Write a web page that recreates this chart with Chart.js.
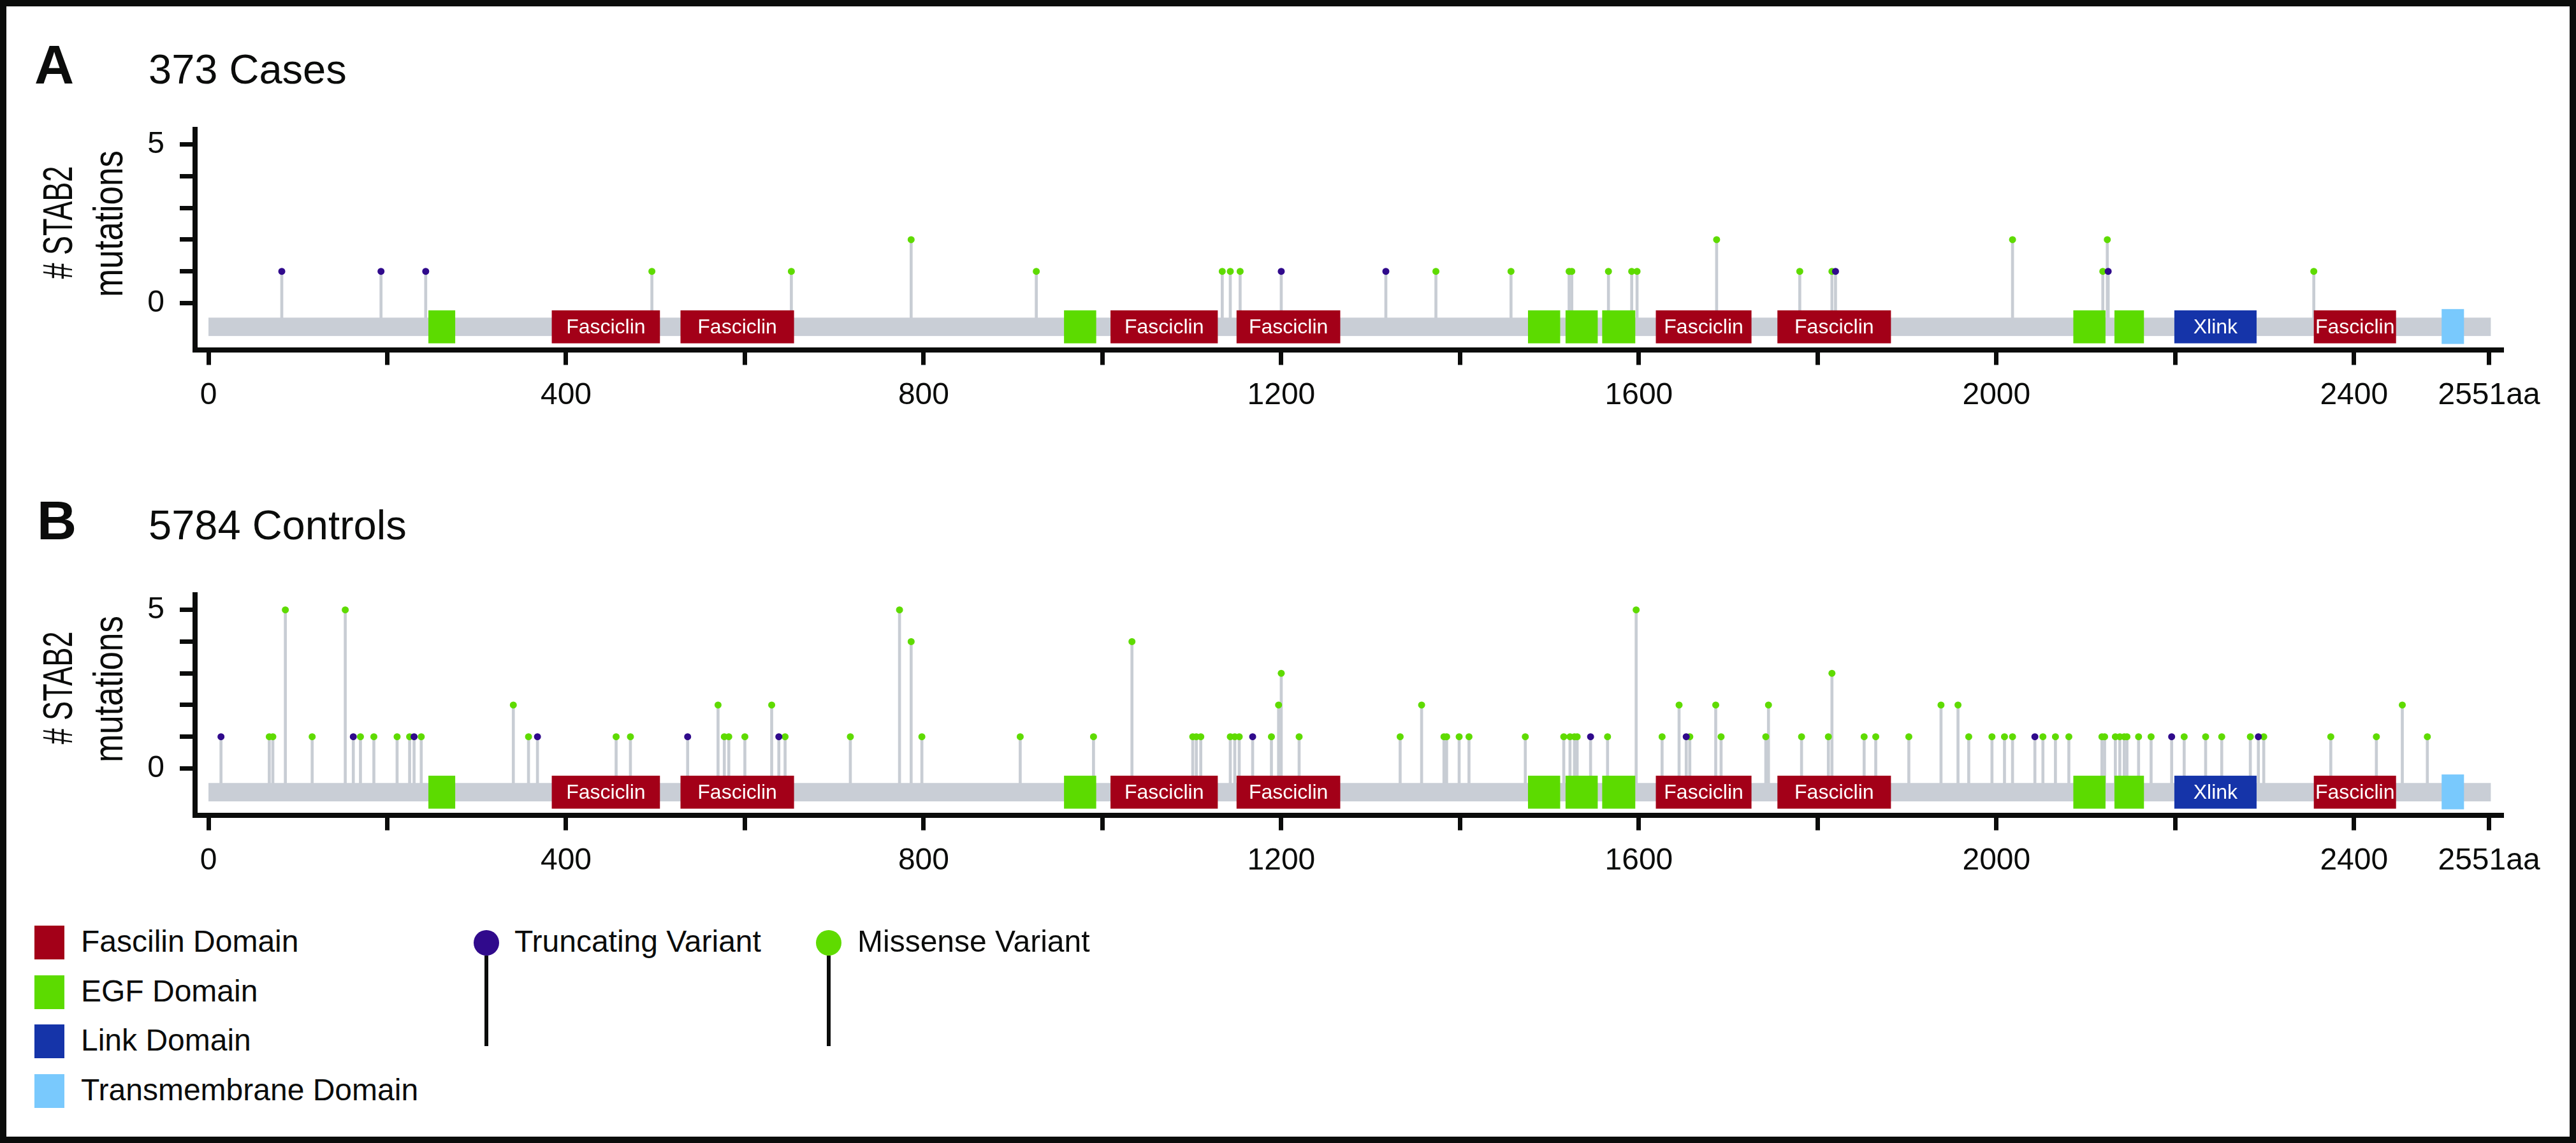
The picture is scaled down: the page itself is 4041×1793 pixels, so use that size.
<!DOCTYPE html>
<html>
<head>
<meta charset="utf-8">
<script src="https://cdn.jsdelivr.net/npm/chart.js@4.4.1/dist/chart.umd.min.js"></script>
<style>
  body { margin: 0; background: #fff; }
  #fig { position: relative; width: 4041px; height: 1793px; overflow: hidden;
         font-family: "Liberation Sans", Arial, sans-serif; color: #0b0c0b; }
  #frame { position: absolute; left: 0; top: 0; width: 4041px; height: 1793px;
           box-sizing: border-box; border: 10px solid #0b0c0b; }
  canvas { position: absolute; left: 0; }
  .t { position: absolute; white-space: nowrap; line-height: 1; }
  .letter { font-weight: bold; font-size: 86px; }
  .head { font-size: 65px; }
  .lg { font-size: 48px; }
  .sw { position: absolute; left: 54px; width: 47px; height: 53px; }
  .pin { position: absolute; width: 40px; height: 40px; border-radius: 50%; }
  .stick { position: absolute; width: 6px; height: 142px; background: #0b0c0b; }
</style>
</head>
<body>
<div id="fig">
  <div class="t letter" style="left:54px; top:58px;">A</div>
  <div class="t head" style="left:233px; top:76px;">373 Cases</div>
  <canvas id="chartA" width="4041" height="540" style="top:150px;"></canvas>

  <div class="t letter" style="left:58px; top:773px;">B</div>
  <div class="t head" style="left:233px; top:791px;">5784 Controls</div>
  <canvas id="chartB" width="4041" height="540" style="top:880px;"></canvas>

  <!-- legend -->
  <div class="sw" style="top:1452px; background:#a30018;"></div>
  <div class="t lg" style="left:127px; top:1453px;">Fascilin Domain</div>
  <div class="sw" style="top:1530px; background:#5cdb00;"></div>
  <div class="t lg" style="left:127px; top:1531px;">EGF Domain</div>
  <div class="sw" style="top:1607px; background:#1534a9;"></div>
  <div class="t lg" style="left:127px; top:1608px;">Link Domain</div>
  <div class="sw" style="top:1685px; background:#79c9fd;"></div>
  <div class="t lg" style="left:127px; top:1686px;">Transmembrane Domain</div>

  <div class="stick" style="left:760px; top:1499px;"></div>
  <div class="pin" style="left:743px; top:1459px; background:#300a8c;"></div>
  <div class="t lg" style="left:807px; top:1453px;">Truncating Variant</div>
  <div class="stick" style="left:1297px; top:1499px;"></div>
  <div class="pin" style="left:1280px; top:1459px; background:#5fdb00;"></div>
  <div class="t lg" style="left:1345px; top:1453px;">Missense Variant</div>

  <div id="frame"></div>
</div>

<script>
// protein and axes
const proteinLength = 2551;
const xTicks = [0, 200, 400, 600, 800, 1000, 1200, 1400, 1600, 1800, 2000, 2200, 2400, 2551];
const yTicks = [0, 1, 2, 3, 4, 5];
const yLabels = [0, 5];

// domain ranges (aa)
const fasciclinDomains = [[384, 505], [528, 655], [1009, 1129], [1150, 1266], [1619, 1726], [1755, 1882], [2355, 2447]];
const egfDomains = [[246, 276], [957, 993], [1476, 1512], [1518, 1554], [1559, 1596], [2086, 2122], [2132, 2165]];
const linkDomains = [[2199, 2291]];
const tmDomains = [[2498, 2523]];

// A: 373 cases
const casesTruncPos = [82, 193, 243, 1200, 1317, 1820, 2125];
const casesTruncCount = [1, 1, 1, 1, 1, 1, 1];
const casesMissensePos = [496, 652, 786, 926, 1134, 1143, 1154, 1373, 1457, 1522, 1525, 1566, 1592, 1598, 1687, 1780, 1816, 2018, 2119, 2124, 2355];
const casesMissenseCount = [1, 1, 2, 1, 1, 1, 1, 1, 1, 1, 1, 1, 1, 1, 2, 1, 1, 2, 1, 2, 1];

// B: 5784 controls
const ctrlTruncPos = [14, 162, 230, 368, 536, 638, 1168, 1546, 1653, 2043, 2196, 2293];
const ctrlTruncCount = [1, 1, 1, 1, 1, 1, 1, 1, 1, 1, 1, 1];
const ctrlMissensePos = [68, 72, 86, 116, 153, 170, 185, 211, 225, 238, 341, 358, 456, 472,
  570, 577, 582, 600, 630, 645, 718, 773, 786, 798, 908, 990, 1033, 1101, 1105, 1110, 1143, 1148, 1153, 1189, 1197, 1200, 1220,
  1333, 1357, 1382, 1385, 1399, 1410, 1473, 1516, 1523, 1528, 1531, 1565, 1597, 1626, 1645, 1657, 1686, 1692, 1742, 1745, 1782, 1812, 1816, 1852, 1865, 1902,
  1938, 1957, 1969, 1995, 2009, 2018, 2052, 2066, 2081, 2118, 2121, 2133, 2138, 2143, 2146, 2159, 2173, 2210, 2234, 2252, 2284, 2299, 2374, 2425, 2454, 2482];
const ctrlMissenseCount = [1, 1, 5, 1, 5, 1, 1, 1, 1, 1, 2, 1, 1, 1,
  2, 1, 1, 1, 2, 1, 1, 5, 4, 1, 1, 1, 4, 1, 1, 1, 1, 1, 1, 1, 2, 3, 1,
  1, 2, 1, 1, 1, 1, 1, 1, 1, 1, 1, 1, 5, 1, 2, 1, 2, 1, 1, 2, 1, 1, 3, 1, 1, 1,
  2, 2, 1, 1, 1, 1, 1, 1, 1, 1, 1, 1, 1, 1, 1, 1, 1, 1, 1, 1, 1, 1, 1, 1, 2, 1];

const ink = '#0b0c0b';
const font = '"Liberation Sans", Arial, sans-serif';

const domainTypes = [
  { ranges: fasciclinDomains, color: '#a30018', label: 'Fasciclin', top: -0.23, bottom: -1.27 },
  { ranges: egfDomains, color: '#5cdb00', label: '', top: -0.23, bottom: -1.27 },
  { ranges: linkDomains, color: '#1534a9', label: 'Xlink', top: -0.23, bottom: -1.27 },
  { ranges: tmDomains, color: '#79c9fd', label: '', top: -0.19, bottom: -1.29 }
];

// backbone + domains go over the stems, under the heads
const proteinPlugin = {
  id: 'protein',
  afterDatasetDraw(chart, args) {
    if (args.index !== 0) return;
    const { ctx } = chart;
    const x = chart.scales.x, y = chart.scales.y;
    const rect = (a, b, top, bottom, color) => {
      const x0 = x.getPixelForValue(a), x1 = x.getPixelForValue(b);
      const y0 = y.getPixelForValue(top), y1 = y.getPixelForValue(bottom);
      ctx.fillStyle = color;
      ctx.fillRect(x0, y0, x1 - x0, y1 - y0);
      return [(x0 + x1) / 2, (y0 + y1) / 2];
    };
    ctx.save();
    rect(0, proteinLength + 2, -0.46, -1.04, '#c9ced6');
    domainTypes.forEach(d => {
      d.ranges.forEach(([a, b]) => {
        const [cx, cy] = rect(a, b, d.top, d.bottom, d.color);
        if (d.label) {
          ctx.fillStyle = '#fff';
          ctx.font = '32px ' + font;
          ctx.textAlign = 'center';
          ctx.textBaseline = 'middle';
          ctx.fillText(d.label, cx, cy + 1);
        }
      });
    });
    ctx.restore();
  }
};

// two-line rotated y title, squeezed like the original
const yTitlePlugin = {
  id: 'ytitle',
  afterDraw(chart) {
    const { ctx } = chart;
    const cy = chart.scales.y.getPixelForValue(2.5);
    ctx.save();
    ctx.fillStyle = ink;
    ctx.textAlign = 'center';
    ctx.textBaseline = 'alphabetic';
    ctx.font = '64px ' + font;
    ctx.translate(113, cy - 2);
    ctx.rotate(-Math.PI / 2);
    ctx.fillText('# STAB2', 0, 0, 177);
    ctx.restore();
    ctx.save();
    ctx.fillStyle = ink;
    ctx.textAlign = 'center';
    ctx.font = '64px ' + font;
    ctx.translate(192, cy);
    ctx.rotate(-Math.PI / 2);
    ctx.fillText('mutations', 0, 0, 230);
    ctx.restore();
  }
};

function drawPanel(id, truncPos, truncCount, misPos, misCount) {
  const stems = [];
  misPos.forEach((p, i) => stems.push({ x: p, y: [-0.75, misCount[i]] }));
  truncPos.forEach((p, i) => stems.push({ x: p, y: [-0.75, truncCount[i]] }));

  new Chart(document.getElementById(id), {
    type: 'scatter',
    data: {
      datasets: [
        { type: 'bar', data: stems, backgroundColor: '#c8cdd4', borderWidth: 0,
          barThickness: 4, grouped: false, order: 3 },
        { type: 'scatter', data: misPos.map((p, i) => ({ x: p, y: misCount[i] })),
          pointRadius: 5.5, pointBackgroundColor: '#5fdb00', pointBorderWidth: 0, order: 1 },
        { type: 'scatter', data: truncPos.map((p, i) => ({ x: p, y: truncCount[i] })),
          pointRadius: 5.5, pointBackgroundColor: '#300a8c', pointBorderWidth: 0, order: 0 }
      ]
    },
    options: {
      responsive: false,
      animation: false,
      devicePixelRatio: 1,
      layout: { padding: { top: 51, right: 114, bottom: 0, left: 0 } },
      plugins: { legend: { display: false }, tooltip: { enabled: false } },
      scales: {
        x: {
          type: 'linear', min: -15, max: 2567, offset: false,
          afterBuildTicks: s => { s.ticks = xTicks.map(v => ({ value: v })); },
          afterFit: s => { s.height = 141.5; },
          border: { display: true, color: ink, width: 8 },
          grid: { offset: false, drawOnChartArea: false, drawTicks: true, tickLength: 24, tickWidth: 7, tickColor: ink },
          ticks: {
            autoSkip: false, maxRotation: 0, padding: 19, color: ink,
            font: { family: font, size: 48 },
            callback: v => v === proteinLength ? v + 'aa' : (v % 400 === 0 ? String(v) : '')
          }
        },
        y: {
          type: 'linear', min: -1.47, max: 5.48, beginAtZero: false, offset: false,
          afterBuildTicks: s => { s.ticks = yTicks.map(v => ({ value: v })); },
          afterFit: s => { s.width = 306; },
          border: { display: true, color: ink, width: 8 },
          grid: { drawOnChartArea: false, drawTicks: true, tickLength: 24, tickWidth: 7, tickColor: ink },
          ticks: {
            padding: 24, color: ink,
            font: { family: font, size: 48 },
            callback: v => yLabels.includes(v) ? String(v) : ''
          }
        }
      }
    },
    plugins: [proteinPlugin, yTitlePlugin]
  });
}

drawPanel('chartA', casesTruncPos, casesTruncCount, casesMissensePos, casesMissenseCount);
drawPanel('chartB', ctrlTruncPos, ctrlTruncCount, ctrlMissensePos, ctrlMissenseCount);
</script>
</body>
</html>
